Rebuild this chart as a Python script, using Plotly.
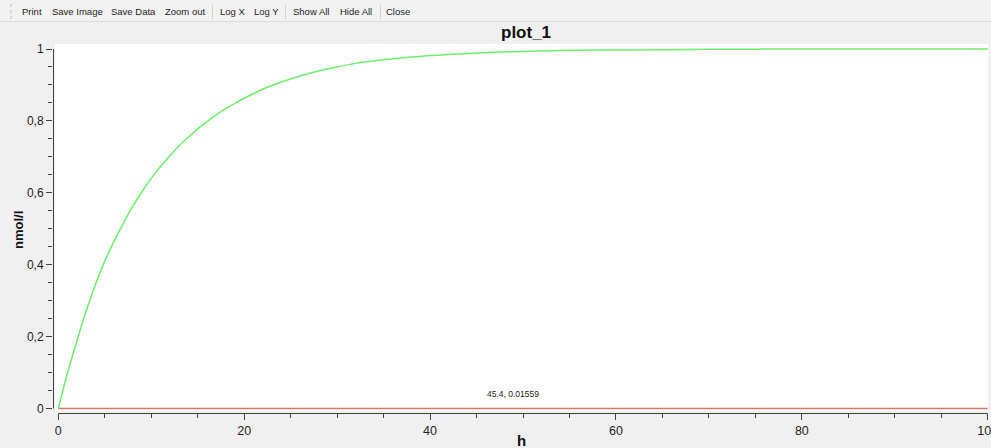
import plotly.graph_objects as go

# ---- data -----------------------------------------------------------------
time_h = [0, 1, 2, 3, 4, 5, 6, 7, 8, 9, 10, 11, 12, 13, 14, 15, 16, 17, 18,
          19, 20, 22, 24, 26, 28, 30, 32, 35, 38, 42, 47, 53, 58, 65, 70, 80,
          90, 100]
conc_green = [0, 0.10, 0.188, 0.272, 0.345, 0.41, 0.465, 0.515, 0.562, 0.603,
              0.64, 0.673, 0.703, 0.731, 0.755, 0.778, 0.798, 0.817, 0.834,
              0.849, 0.863, 0.888, 0.908, 0.925, 0.939, 0.950, 0.960, 0.970,
              0.978, 0.985, 0.991, 0.995, 0.997, 0.998, 0.999, 1.0, 1.0, 1.0]
time_red = [0, 100]
conc_red = [0, 0]

toolbar_items = ["Print", "Save Image", "Save Data", "Zoom out", "Log X",
                 "Log Y", "Show All", "Hide All", "Close"]
toolbar_centers = [32, 77, 133, 184.5, 232, 266.5, 311, 355.5, 398]
toolbar_separators = [212.5, 285.5, 380.5]

title_text = "plot_1"
x_title = "h"
y_title = "nmol/l"
cursor_text = "45.4, 0.01559"

# ---- geometry -------------------------------------------------------------
W, H = 991, 448
L, R, T, B = 53, 3, 44, 35          # plot area: x 53..988, y 44..413
PW, PH = W - L - R, H - T - B
X_RANGE = [-0.57, 100.03]
Y_RANGE = [-0.0125, 1.0139]

BG = "#f0f0f0"
AXIS = "#404040"
TXT = "#1e1e1e"
FONT = "Liberation Sans, Arial, sans-serif"


def px(x):
    """pixel column -> paper x"""
    return (x - L) / PW


def py(y):
    """pixel row -> paper y"""
    return (H - B - y) / PH


def dx(v):
    """data x -> paper x"""
    return (v - X_RANGE[0]) / (X_RANGE[1] - X_RANGE[0])


def dy(v):
    """data y -> paper y"""
    return (v - Y_RANGE[0]) / (Y_RANGE[1] - Y_RANGE[0])


fig = go.Figure()
fig.add_trace(go.Scatter(x=time_red, y=conc_red, mode="lines",
                         line=dict(color="#dc7464", width=1.5),
                         hoverinfo="skip", showlegend=False))
fig.add_trace(go.Scatter(x=time_h, y=conc_green, mode="lines",
                         line=dict(color="#6cf06c", width=1.5, shape="spline",
                                   smoothing=0.8),
                         hoverinfo="skip", showlegend=False))

shapes = []
# toolbar strip
shapes.append(dict(type="rect", xref="paper", yref="paper",
                   x0=px(0), x1=px(W), y0=py(21), y1=py(0),
                   fillcolor="#f2f2f2", line=dict(width=0), layer="below"))
shapes.append(dict(type="line", xref="paper", yref="paper",
                   x0=px(0), x1=px(W), y0=py(21.5), y1=py(21.5),
                   line=dict(color="#dcdcdc", width=1)))
# toolbar grip
shapes.append(dict(type="line", xref="paper", yref="paper",
                   x0=px(11), x1=px(11), y0=py(4), y1=py(19),
                   line=dict(color="#b8b8b8", width=1, dash="dot")))
for sx in toolbar_separators:
    shapes.append(dict(type="line", xref="paper", yref="paper",
                       x0=px(sx), x1=px(sx), y0=py(5), y1=py(19),
                       line=dict(color="#d2d2d2", width=1)))
# white canvas
shapes.append(dict(type="rect", xref="paper", yref="paper",
                   x0=px(55), x1=px(988), y0=py(411), y1=py(44),
                   fillcolor="white", line=dict(width=0), layer="below"))
# axis backbones spanning the data range
shapes.append(dict(type="line", xref="paper", yref="paper",
                   x0=dx(0), x1=dx(100), y0=py(413.5), y1=py(413.5),
                   line=dict(color=AXIS, width=1)))
shapes.append(dict(type="line", xref="paper", yref="paper",
                   x0=px(53.5), x1=px(53.5), y0=dy(0), y1=dy(1),
                   line=dict(color=AXIS, width=1)))

annotations = []
for label, cx in zip(toolbar_items, toolbar_centers):
    annotations.append(dict(text=label, x=px(cx), y=py(12), xref="paper",
                            yref="paper", xanchor="center", yanchor="middle",
                            showarrow=False,
                            font=dict(family=FONT, size=9.5, color=TXT)))
annotations.append(dict(text="<b>%s</b>" % title_text, x=px(526), y=py(33),
                        xref="paper", yref="paper", xanchor="center",
                        yanchor="middle", showarrow=False,
                        font=dict(family=FONT, size=17, color="#111111")))
annotations.append(dict(text="<b>%s</b>" % x_title, x=px(521), y=py(440),
                        xref="paper", yref="paper", xanchor="center",
                        yanchor="middle", showarrow=False,
                        font=dict(family=FONT, size=15, color="#111111")))
annotations.append(dict(text="<b>%s</b>" % y_title, x=px(18), y=py(230),
                        xref="paper", yref="paper", xanchor="center",
                        yanchor="middle", showarrow=False, textangle=-90,
                        font=dict(family=FONT, size=13, color="#111111")))
annotations.append(dict(text=cursor_text, x=px(512.5), y=py(394),
                        xref="paper", yref="paper", xanchor="center",
                        yanchor="middle", showarrow=False,
                        font=dict(family=FONT, size=8.5, color="#222222")))

fig.update_layout(
    width=W, height=H,
    margin=dict(l=L, r=R, t=T, b=B, pad=0, autoexpand=False),
    paper_bgcolor=BG, plot_bgcolor=BG,
    separators=",.",
    font=dict(family=FONT, size=12, color=TXT),
    shapes=shapes, annotations=annotations,
    showlegend=False,
    xaxis=dict(range=X_RANGE, showgrid=False, zeroline=False, showline=False,
               tick0=0, dtick=20, ticks="outside", ticklen=6, tickwidth=1,
               tickcolor=AXIS, tickfont=dict(family=FONT, size=12.5, color=TXT),
               ticklabeloverflow="allow", automargin=False,
               minor=dict(tick0=0, dtick=5, ticks="outside", ticklen=4,
                          tickwidth=1, tickcolor=AXIS, showgrid=False),
               fixedrange=True),
    yaxis=dict(range=Y_RANGE, showgrid=False, zeroline=False, showline=False,
               tick0=0, dtick=0.2, ticks="outside", ticklen=6, tickwidth=1,
               tickcolor=AXIS, tickfont=dict(family=FONT, size=12, color=TXT),
               automargin=False,
               minor=dict(tick0=0, dtick=0.05, ticks="outside", ticklen=4,
                          tickwidth=1, tickcolor=AXIS, showgrid=False),
               fixedrange=True),
)

fig.write_html("out.html", config={"displayModeBar": False})
